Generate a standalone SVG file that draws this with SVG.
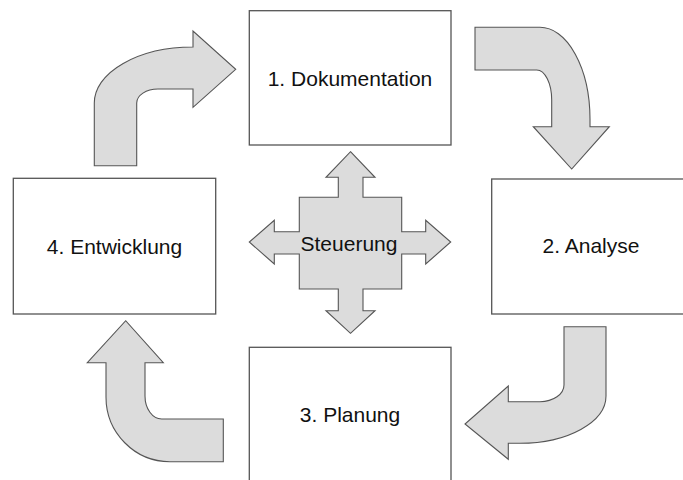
<svg xmlns="http://www.w3.org/2000/svg" width="683" height="480" viewBox="0 0 683 480">
<style>
.box{fill:#fff;stroke:#555;stroke-width:1.3}
.arr{fill:#dcdcdc;stroke:#555;stroke-width:1.1;stroke-linejoin:miter}
.lbl{font-family:"Liberation Sans",Arial,sans-serif;font-size:21px;fill:#111;text-anchor:middle}
</style>
<rect width="683" height="480" fill="#fff"/>
<g id="connectors">
<path class="arr" d="M 94.3 165.7 L 94.3 103 A 98.7 56 0 0 1 193 47 L 193 31 L 235.7 69.3 L 193 107.3 L 193 89 L 158 89 A 21.3 14 0 0 0 136.7 103 L 136.7 165.7 Z"/>
<path class="arr" d="M 475 27.3 L 540 27.3 A 50 92 0 0 1 590 119 L 590 126.7 L 609.3 126.7 L 571.7 169 L 533.3 126.7 L 551.7 126.7 L 551.7 100 A 15 30 0 0 0 536.7 70 L 475 70 Z"/>
<path class="arr" d="M 564 326.7 L 606 326.7 L 606 396 A 86 47.3 0 0 1 520 443.3 L 508.3 443.3 L 508.3 459.3 L 465 424 L 508.3 386 L 508.3 401.7 L 540 401.7 A 24 16.7 0 0 0 564 385 Z"/>
<path class="arr" d="M 223.3 419 L 161.7 419 A 16.7 23 0 0 1 145 396 L 145 362.7 L 163.3 362.7 L 125.7 320.7 L 87.3 362.7 L 106 362.7 L 106 397 A 64 64.7 0 0 0 170 461.7 L 223.3 461.7 Z"/>
</g>
<g id="steuerung">
<path class="arr" d="M 350.5 151.7 L 375 177.3 L 363 177.3 L 363 197.3 L 401.7 197.3 L 401.7 231.7 L 425.7 231.7 L 425.7 220.3 L 450.7 242 L 425.7 264 L 425.7 254 L 401.7 254 L 401.7 289 L 363 289 L 363 310.7 L 375 310.7 L 350.5 333.3 L 326 310.7 L 338.3 310.7 L 338.3 289 L 299.3 289 L 299.3 254 L 274.3 254 L 274.3 264 L 249.3 242 L 274.3 220.3 L 274.3 231.7 L 299.3 231.7 L 299.3 197.3 L 338.3 197.3 L 338.3 177.3 L 326 177.3 Z"/>
<text class="lbl" x="349" y="251">Steuerung</text>
</g>
<g id="node1">
<rect class="box" x="249.3" y="10.7" width="201.7" height="134.3"/>
<text class="lbl" x="350" y="86">1. Dokumentation</text>
</g>
<g id="node2">
<rect class="box" x="491.7" y="179" width="200" height="135"/>
<text class="lbl" x="591" y="253">2. Analyse</text>
</g>
<g id="node3">
<rect class="box" x="249.3" y="347.3" width="201.7" height="140"/>
<text class="lbl" x="350" y="422">3. Planung</text>
</g>
<g id="node4">
<rect class="box" x="13.3" y="178.3" width="202.4" height="135.7"/>
<text class="lbl" x="114.5" y="254">4. Entwicklung</text>
</g>
</svg>
